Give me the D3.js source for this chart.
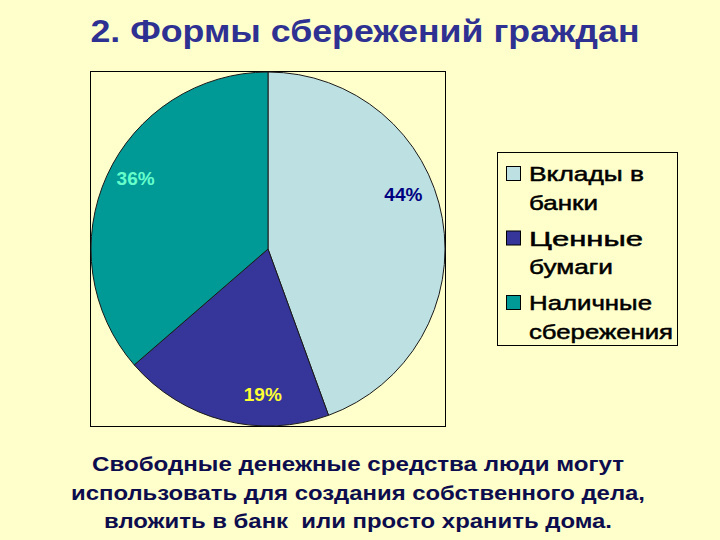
<!DOCTYPE html>
<html><head><meta charset="utf-8">
<script src="https://cdn.jsdelivr.net/npm/d3@7"></script>
<style>html,body{margin:0;padding:0;background:#FFFFCC;}svg{display:block;}</style>
</head><body>
<script>
const title = "2. Формы сбережений граждан";
const categories = ["Вклады в банки", "Ценные бумаги", "Наличные сбережения"];
const legendLines = [["Вклады в", "банки"], ["Ценные", "бумаги"], ["Наличные", "сбережения"]];
const values = [44, 19, 36];
const labels = ["44%", "19%", "36%"];
const colors = ["#BDE1E3", "#36369A", "#009A96"];
const labelColors = ["#000080", "#FFFF33", "#66FFCC"];
const caption = ["Свободные денежные средства люди могут",
  "использовать для создания собственного дела,",
  "вложить в банк  или просто хранить дома."];

const FONT = "Arial, 'Liberation Sans', sans-serif";
const W = 720, H = 540;
const svg = d3.select("body").append("svg").attr("width", W).attr("height", H);
svg.append("rect").attr("width", W).attr("height", H).attr("fill", "#FFFFCC");

svg.append("text").attr("x", 365).attr("y", 42).attr("text-anchor", "middle")
  .attr("font-family", FONT).attr("font-weight", "bold")
  .attr("font-size", 32).attr("fill", "#2E3192")
  .attr("textLength", 549).attr("lengthAdjust", "spacingAndGlyphs").text(title);

// plot box
svg.append("rect").attr("x", 90.5).attr("y", 71.5).attr("width", 355).attr("height", 355)
  .attr("fill", "none").attr("stroke", "#000").attr("stroke-width", 1);

const cx = 268, cy = 249, r = 177;
const pie = d3.pie().sort(null).value(d => d);
const arcs = pie(values);
const arc = d3.arc().innerRadius(0).outerRadius(r);
const g = svg.append("g").attr("transform", `translate(${cx},${cy})`);
g.selectAll("path").data(arcs).join("path")
  .attr("d", arc).attr("fill", (d, i) => colors[i])
  .attr("stroke", "#1a1a1a").attr("stroke-width", 1);

// label placement: polar position near each slice, shifted like the original
const labelShiftDeg = [-12, -12.5, 3.5];
const labelRadius = [146, 146, 150];
const labelXY = (d, i) => {
  const a = (d.startAngle + d.endAngle) / 2 + labelShiftDeg[i] * Math.PI / 180;
  return [labelRadius[i] * Math.sin(a), -labelRadius[i] * Math.cos(a)];
};
g.selectAll("text.lbl").data(arcs).join("text").attr("class", "lbl")
  .attr("x", (d, i) => labelXY(d, i)[0])
  .attr("y", (d, i) => labelXY(d, i)[1])
  .attr("text-anchor", "middle").attr("dominant-baseline", "central")
  .attr("font-family", FONT).attr("font-weight", "bold")
  .attr("font-size", 19).attr("fill", (d, i) => labelColors[i])
  .text((d, i) => labels[i]);

// legend
svg.append("rect").attr("x", 497.5).attr("y", 152.5).attr("width", 180).attr("height", 193)
  .attr("fill", "#FFFFCC").attr("stroke", "#000").attr("stroke-width", 1);
const lg = svg.append("g");
const legendWidths = [[115, 69], [114, 84], [123, 144]];
categories.forEach((c, i) => {
  const y0 = 181 + i * 64.5;
  lg.append("rect").attr("x", 506.5).attr("y", y0 - 14.5).attr("width", 14).attr("height", 14)
    .attr("fill", colors[i]).attr("stroke", "#000").attr("stroke-width", 1);
  legendLines[i].forEach((t, j) => {
    lg.append("text").attr("x", 529).attr("y", y0 + j * 28.5)
      .attr("font-family", FONT)
      .attr("font-size", 21).attr("fill", "#000")
      .attr("stroke", "#000").attr("stroke-width", 0.5)
      .attr("textLength", legendWidths[i][j]).attr("lengthAdjust", "spacingAndGlyphs").text(t);
  });
});

const captionWidths = [532, 574, 508];
caption.forEach((t, i) => {
  svg.append("text").attr("x", 358).attr("y", 471 + i * 28.5).attr("text-anchor", "middle")
    .attr("font-family", FONT).attr("font-weight", "bold")
    .attr("font-size", 20).attr("fill", "#0D0D4D")
    .style("white-space", "pre")
    .attr("textLength", captionWidths[i]).attr("lengthAdjust", "spacingAndGlyphs").text(t);
});
</script>
</body></html>
